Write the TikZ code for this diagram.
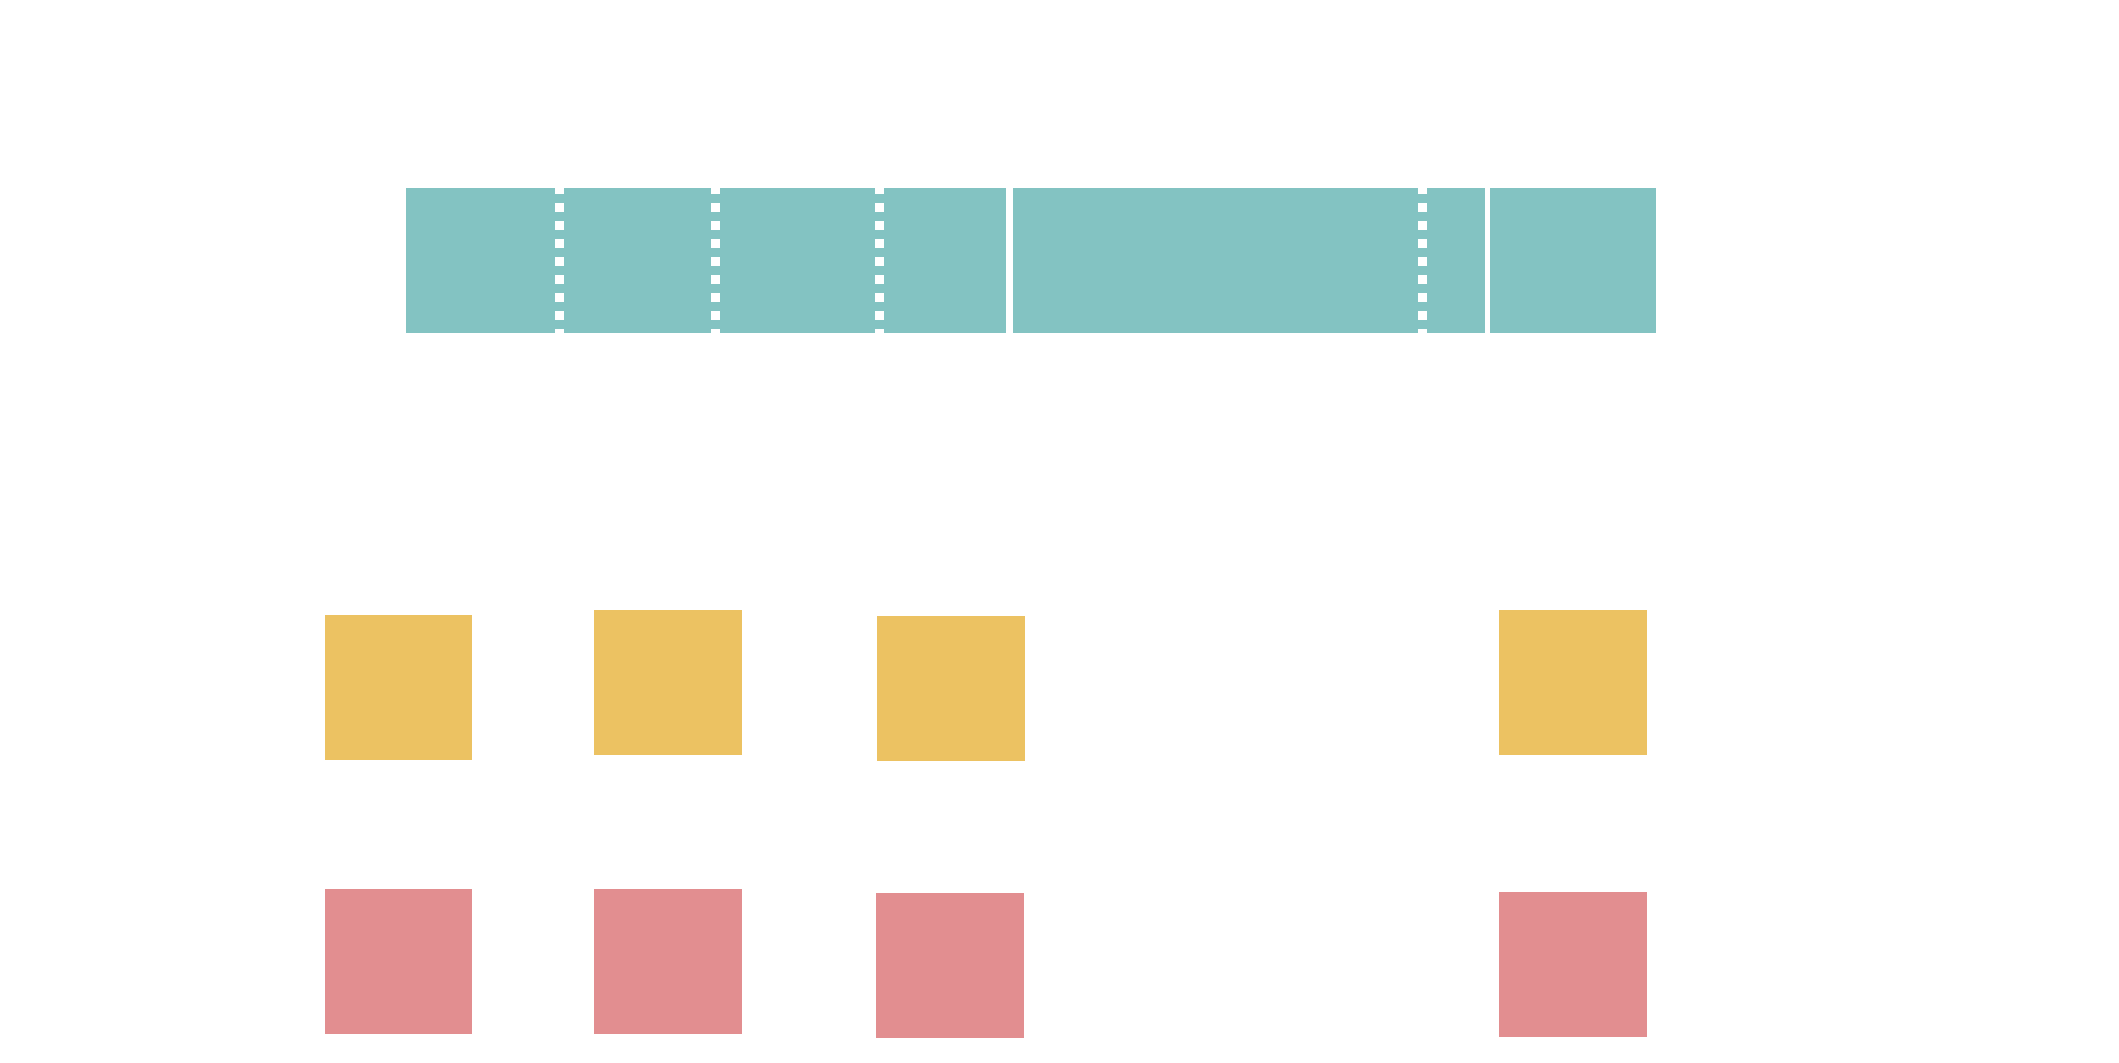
\documentclass[tikz,border=0pt]{standalone}
\usepackage{tikz}
\usetikzlibrary{positioning}

\definecolor{barteal}{RGB}{131,195,194}
\definecolor{cardyellow}{RGB}{236,194,98}
\definecolor{cardred}{RGB}{226,142,144}

\begin{document}
\begin{tikzpicture}[
  x=0.5pt,y=-0.5pt,
  seg/.style={fill=barteal,inner sep=0pt,anchor=north west,minimum height=72.25pt},
  card/.style={inner sep=0pt,anchor=north west,minimum width=73.6pt,minimum height=72.5pt},
  ycard/.style={card,fill=cardyellow},
  rcard/.style={card,fill=cardred},
  sepdots/.style={draw=white,line width=4.5pt,dash pattern=on 4.5pt off 4.5pt}]
\useasboundingbox (0,0) rectangle (2119,1063);
% bar
\node[seg,minimum width=300.2pt] (s1) at (405.5,188) {};
\node[seg,minimum width=236.4pt] (s2) at (1012.1,188) {};
\node[seg,minimum width=82.85pt] (s3) at (1489.8,188) {};
\foreach \x in {559.5,715.4,879.5,1422.5}
  \draw[sepdots] (\x,185.3) -- (\x,338);
% cards
\node[ycard] (y1) at (324.5,614.5) {};
\node[ycard] (y2) at (594,610) {};
\node[ycard] (y3) at (877,616) {};
\node[ycard] (y4) at (1499,610) {};
\node[rcard] (r1) at (324.5,889) {};
\node[rcard] (r2) at (594,889) {};
\node[rcard] (r3) at (876,893) {};
\node[rcard] (r4) at (1499,892) {};
\end{tikzpicture}
\end{document}
